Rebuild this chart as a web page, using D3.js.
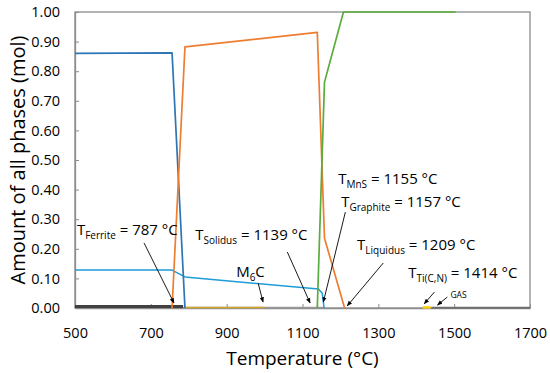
<!DOCTYPE html>
<html>
<head>
<meta charset="utf-8">
<script src="https://cdn.jsdelivr.net/npm/d3@7"></script>
<style>
  body { margin: 0; background: #fff; }
  text { font-family: "Open Sans", "Noto Sans", sans-serif; }
</style>
</head>
<body>
<div id="chart"></div>
<script>
// phase amounts (mol) vs temperature (°C)
const ferriteT = [500, 756, 790];
const ferriteV = [0.860, 0.862, 0];
const austeniteT = [756, 790, 1139, 1158, 1211];
const austeniteV = [0, 0.882, 0.931, 0.236, 0];
const liquidT = [1139, 1158, 1208, 1504];
const liquidV = [0, 0.763, 1.0, 1.0];
const graphiteT = [500, 756, 790, 1142, 1152, 1157];
const graphiteV = [0.128, 0.128, 0.105, 0.064, 0.050, 0];
const carbideT = [500, 785];
const carbideV = [0.005, 0.005];
const mnsT = [785, 1155];
const mnsV = [0.002, 0.002];
const m6cT = [790, 1000];
const m6cV = [0.002, 0.002];
const ticnT = [1417, 1438];
const ticnV = [0.002, 0.002];
const gasT = [1440, 1700];
const gasV = [0.001, 0.001];

const xTicks = [500, 700, 900, 1100, 1300, 1500, 1700];
const yTicks = [0, 0.1, 0.2, 0.3, 0.4, 0.5, 0.6, 0.7, 0.8, 0.9, 1.0];

// annotation: main text, subscript, rest, text anchor (T, mol), arrow from/to (T, mol)
const notes = [
    { main: "T", sub: "Ferrite", rest: " = 787 °C", at: [505, 0.247], from: [682, 0.220], to: [761, 0.017] },
    { main: "T", sub: "Solidus", rest: " = 1139 °C", at: [817, 0.230], from: [1060, 0.189], to: [1120, 0.017] },
    { main: "M", sub: "6", rest: "C", at: [925, 0.105], from: [983, 0.084], to: [996, 0.020] },
    { main: "T", sub: "MnS", rest: " = 1155 °C", at: [1194, 0.419] },
    { main: "T", sub: "Graphite", rest: " = 1157 °C", at: [1202, 0.341], from: [1213, 0.324], to: [1155, 0.020] },
    { main: "T", sub: "Liquidus", rest: " = 1209 °C", at: [1244, 0.196], from: [1313, 0.152], to: [1218, 0.007] },
    { main: "T", sub: "Ti(C,N)", rest: " = 1414 °C", at: [1379, 0.101], from: [1448, 0.054], to: [1421, 0.014] },
    { main: "", sub: "", rest: "GAS", small: true, at: [1490, 0.034], from: [1482, 0.037], to: [1456, 0.010] }
];

const width = 550;
const height = 373;
const margin = { top: 12, right: 20, bottom: 65, left: 75 };

const svg = d3.select("#chart")
    .append("svg")
    .attr("width", width)
    .attr("height", height);

const x = d3.scaleLinear()
    .domain([500, 1700])
    .range([margin.left, width - margin.right]);

const y = d3.scaleLinear()
    .domain([0, 1])
    .range([height - margin.bottom, margin.top]);

svg.append("defs").append("marker")
    .attr("id", "arrow")
    .attr("viewBox", "0 0 10 10")
    .attr("refX", 9)
    .attr("refY", 5)
    .attr("markerWidth", 6)
    .attr("markerHeight", 6)
    .attr("orient", "auto")
    .append("path")
    .attr("d", "M0,1 L10,5 L0,9 z")
    .attr("fill", "#000");

// frame
svg.append("rect")
    .attr("x", x(500))
    .attr("y", y(1))
    .attr("width", x(1700) - x(500))
    .attr("height", y(0) - y(1))
    .attr("fill", "none")
    .attr("stroke", "#8c8c8c")
    .attr("stroke-width", 1.3);

const xAxis = svg.append("g")
    .attr("transform", "translate(0," + y(0) + ")")
    .call(d3.axisBottom(x).tickValues(xTicks).tickSizeInner(-4).tickSizeOuter(0).tickPadding(20).tickFormat(d3.format("d")));

const yAxis = svg.append("g")
    .attr("transform", "translate(" + x(500) + ",0)")
    .call(d3.axisLeft(y).tickValues(yTicks).tickSizeInner(-4).tickSizeOuter(0).tickPadding(15).tickFormat(d3.format(".2f")));

[xAxis, yAxis].forEach(a => {
    a.select(".domain").attr("stroke", "#8c8c8c").attr("stroke-width", 1.3);
    a.selectAll(".tick line").attr("stroke", "#8c8c8c");
    a.selectAll(".tick text").attr("font-size", 14.5).attr("fill", "#000")
        .style("font-family", "'Open Sans', sans-serif");
});

const line = d3.line()
    .x(d => x(d[0]))
    .y(d => y(d[1]));

const series = [
    { t: gasT, v: gasV, color: "#6f6f6f", w: 2 },
    { t: mnsT, v: mnsV, color: "#9a9a9a", w: 1.5 },
    { t: carbideT, v: carbideV, color: "#404040", w: 3 },
    { t: m6cT, v: m6cV, color: "#d4a72c", w: 1.5 },
    { t: ticnT, v: ticnV, color: "#ffd000", w: 2.5 },
    { t: graphiteT, v: graphiteV, color: "#1f9bd7", w: 1.5 },
    { t: ferriteT, v: ferriteV, color: "#2e75b6", w: 1.7 },
    { t: austeniteT, v: austeniteV, color: "#ed7d31", w: 1.7 },
    { t: liquidT, v: liquidV, color: "#5aac3c", w: 1.7 }
];

svg.selectAll(".series")
    .data(series)
    .enter().append("path")
    .attr("class", "series")
    .attr("d", s => line(d3.zip(s.t, s.v)))
    .attr("fill", "none")
    .attr("stroke", s => s.color)
    .attr("stroke-width", s => s.w)
    .attr("stroke-linejoin", "round");

// annotations
const g = svg.append("g");
notes.forEach(n => {
    const t = g.append("text")
        .attr("x", x(n.at[0]))
        .attr("y", y(n.at[1]))
        .attr("font-size", n.small ? 8.5 : 15)
        .attr("fill", "#000");
    if (n.main) t.append("tspan").text(n.main);
    if (n.sub) t.append("tspan").attr("font-size", 10).attr("dy", 4).text(n.sub);
    t.append("tspan").attr("dy", n.sub ? -4 : 0).text(n.rest);
    if (n.from) {
        g.append("line")
            .attr("x1", x(n.from[0]))
            .attr("y1", y(n.from[1]))
            .attr("x2", x(n.to[0]))
            .attr("y2", y(n.to[1]))
            .attr("stroke", "#000")
            .attr("stroke-width", 0.9)
            .attr("marker-end", "url(#arrow)");
    }
});

svg.append("text")
    .attr("x", (x(500) + x(1700)) / 2)
    .attr("y", 365)
    .attr("text-anchor", "middle")
    .attr("font-size", 19)
    .text("Temperature (°C)");

svg.append("text")
    .attr("transform", "translate(25,160) rotate(-90)")
    .attr("text-anchor", "middle")
    .attr("font-size", 20)
    .text("Amount of all phases (mol)");
</script>
</body>
</html>
